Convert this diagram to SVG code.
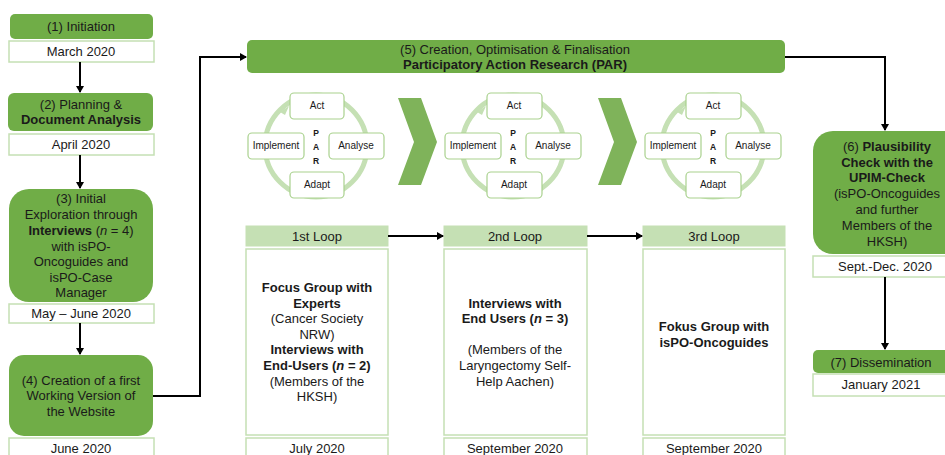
<svg xmlns="http://www.w3.org/2000/svg" width="945" height="455" viewBox="0 0 945 455">
<defs>
<marker id="ah" markerWidth="8" markerHeight="8" refX="6" refY="4" orient="auto" markerUnits="userSpaceOnUse">
<path d="M0,0 L7,4 L0,8 z" fill="#000"/>
</marker>
<style>
.g{fill:#70ad47;}
.d{fill:#fff;stroke:#c5e0b4;stroke-width:1.5;}
.h{fill:#c5e0b4;stroke:#c5e0b4;stroke-width:1;}
.c{fill:#fff;stroke:#a9d18e;stroke-width:1.2;}
.ring{fill:none;stroke:#c5e0b4;stroke-width:5;}
.chev{fill:#7fb35a;}
text{font-family:"Liberation Sans",Arial,sans-serif;font-size:13px;fill:#1a1a1a;text-anchor:middle;}
.s{font-size:10px;}
.p{font-size:8.5px;font-weight:bold;}
.b{font-weight:bold;}
.i{font-style:italic;}
.ln{fill:none;stroke:#000;stroke-width:2;}
</style>
</defs>
<rect width="945" height="455" fill="#fff"/>

<g id="n1"><rect class="g" x="10" y="14" width="143" height="25" rx="5"/><text x="81" y="31">(1) Initiation</text></g>
<g id="d1"><rect class="d" x="9" y="41" width="145" height="21"/><text x="81" y="56">March 2020</text></g>

<g id="n2"><rect class="g" x="8" y="93" width="145" height="38" rx="6"/><text x="81" y="109">(2) Planning &amp;</text><text x="81" y="124" class="b">Document Analysis</text></g>
<g id="d2"><rect class="d" x="9" y="134" width="145" height="21"/><text x="81" y="149">April 2020</text></g>

<g id="n3"><rect class="g" x="9" y="189" width="144" height="113" rx="20"/>
<text x="81" y="203">(3) Initial</text>
<text x="81" y="219">Exploration through</text>
<text x="81" y="235"><tspan class="b">Interviews</tspan> (<tspan class="i">n</tspan> = 4)</text>
<text x="81" y="251">with isPO-</text>
<text x="81" y="266">Oncoguides and</text>
<text x="81" y="282">isPO-Case</text>
<text x="81" y="297">Manager</text></g>
<g id="d3"><rect class="d" x="9" y="304" width="145" height="19"/><text x="81" y="318">May – June 2020</text></g>

<g id="n4"><rect class="g" x="9" y="355" width="144" height="81" rx="15"/>
<text x="81" y="385">(4) Creation of a first</text>
<text x="81" y="400">Working Version of</text>
<text x="81" y="416">the Website</text></g>
<g id="d4"><rect class="d" x="9" y="438" width="145" height="22"/><text x="81" y="453">June 2020</text></g>

<g id="n5"><rect class="g" x="247" y="40" width="538" height="33" rx="5"/>
<text x="515" y="54">(5) Creation, Optimisation &amp; Finalisation</text>
<text x="515" y="69" class="b">Participatory Action Research (PAR)</text></g>

<g id="cycle1">
<circle class="ring" cx="316" cy="146" r="51"/>
<path d="M280,112 L289,106 L285,115 z" fill="#c5e0b4"/>
<rect class="c" x="290" y="93" width="54" height="26" rx="4"/><text class="s" x="317" y="109">Act</text>
<rect class="c" x="248" y="133" width="56" height="26" rx="4"/><text class="s" x="276" y="149">Implement</text>
<rect class="c" x="329" y="133" width="55" height="26" rx="4"/><text class="s" x="356" y="149">Analyse</text>
<rect class="c" x="290" y="172" width="54" height="26" rx="4"/><text class="s" x="317" y="188">Adapt</text>
<text class="p" x="316" y="136">P</text><text class="p" x="316" y="150">A</text><text class="p" x="316" y="164">R</text>
</g>
<g id="chev1"><path class="chev" d="M398,98 L421,98 L437,142 L421,185 L398,185 L414,142 z"/></g>

<g id="cycle2">
<circle class="ring" cx="513" cy="146" r="51"/>
<path d="M477,112 L486,106 L482,115 z" fill="#c5e0b4"/>
<rect class="c" x="487" y="93" width="55" height="26" rx="4"/><text class="s" x="514" y="109">Act</text>
<rect class="c" x="445" y="133" width="56" height="26" rx="4"/><text class="s" x="473" y="149">Implement</text>
<rect class="c" x="526" y="133" width="55" height="26" rx="4"/><text class="s" x="553" y="149">Analyse</text>
<rect class="c" x="487" y="172" width="55" height="26" rx="4"/><text class="s" x="514" y="188">Adapt</text>
<text class="p" x="513" y="136">P</text><text class="p" x="513" y="150">A</text><text class="p" x="513" y="164">R</text>
</g>
<g id="chev2"><path class="chev" d="M598,98 L621,98 L637,142 L621,185 L598,185 L614,142 z"/></g>

<g id="cycle3">
<circle class="ring" cx="713" cy="146" r="51"/>
<path d="M677,112 L686,106 L682,115 z" fill="#c5e0b4"/>
<rect class="c" x="686" y="93" width="55" height="26" rx="4"/><text class="s" x="713" y="109">Act</text>
<rect class="c" x="645" y="133" width="56" height="26" rx="4"/><text class="s" x="673" y="149">Implement</text>
<rect class="c" x="726" y="133" width="55" height="26" rx="4"/><text class="s" x="753" y="149">Analyse</text>
<rect class="c" x="686" y="172" width="55" height="26" rx="4"/><text class="s" x="713" y="188">Adapt</text>
<text class="p" x="713" y="136">P</text><text class="p" x="713" y="150">A</text><text class="p" x="713" y="164">R</text>
</g>

<g id="loop1">
<rect class="h" x="246" y="226" width="142" height="20"/><text x="317" y="241">1st Loop</text>
<rect class="d" x="246" y="249" width="142" height="186"/>
<text x="317" y="292" class="b">Focus Group with</text>
<text x="317" y="308" class="b">Experts</text>
<text x="317" y="323">(Cancer Society</text>
<text x="317" y="339">NRW)</text>
<text x="317" y="354" class="b">Interviews with</text>
<text x="317" y="370" class="b">End-Users (<tspan class="i">n</tspan> = 2)</text>
<text x="317" y="386">(Members of the</text>
<text x="317" y="401">HKSH)</text>
<rect class="d" x="246" y="438" width="142" height="22"/><text x="317" y="453">July 2020</text>
</g>

<g id="loop2">
<rect class="h" x="444" y="226" width="143" height="20"/><text x="515" y="241">2nd Loop</text>
<rect class="d" x="444" y="249" width="143" height="186"/>
<text x="515" y="308" class="b">Interviews with</text>
<text x="515" y="323" class="b">End Users (<tspan class="i">n</tspan> = 3)</text>
<text x="515" y="354">(Members of the</text>
<text x="515" y="370">Laryngectomy Self-</text>
<text x="515" y="386">Help Aachen)</text>
<rect class="d" x="444" y="438" width="143" height="22"/><text x="515" y="453">September 2020</text>
</g>

<g id="loop3">
<rect class="h" x="643" y="226" width="142" height="20"/><text x="714" y="241">3rd Loop</text>
<rect class="d" x="643" y="249" width="142" height="186"/>
<text x="714" y="331" class="b">Fokus Group with</text>
<text x="714" y="347" class="b">isPO-Oncoguides</text>
<rect class="d" x="643" y="438" width="142" height="22"/><text x="714" y="453">September 2020</text>
</g>

<g id="n6"><rect class="g" x="813" y="131" width="150" height="123" rx="20"/>
<text x="887" y="151">(6) <tspan class="b">Plausibility</tspan></text>
<text x="887" y="167" class="b">Check with the</text>
<text x="887" y="182" class="b">UPIM-Check</text>
<text x="887" y="198">(isPO-Oncoguides</text>
<text x="887" y="214">and further</text>
<text x="887" y="230">Members of the</text>
<text x="887" y="246">HKSH)</text></g>
<g id="d6"><rect class="d" x="813" y="256" width="150" height="21"/><text x="885" y="271">Sept.-Dec. 2020</text></g>

<g id="n7"><rect class="g" x="813" y="350" width="150" height="23" rx="5"/><text x="881" y="367">(7) Dissemination</text></g>
<g id="d7"><rect class="d" x="813" y="374" width="150" height="22"/><text x="881" y="389">January 2021</text></g>

<g id="connectors">
<path class="ln" d="M80,62 V92" marker-end="url(#ah)"/>
<path class="ln" d="M80,155 V188" marker-end="url(#ah)"/>
<path class="ln" d="M80,323 V354" marker-end="url(#ah)"/>
<path class="ln" d="M153,396 H200 V57 H246" marker-end="url(#ah)"/>
<path class="ln" d="M785,57 H885 V130" marker-end="url(#ah)"/>
<path class="ln" d="M885,277 V349" marker-end="url(#ah)"/>
<path class="ln" d="M388,236 H443" marker-end="url(#ah)"/>
<path class="ln" d="M587,236 H642" marker-end="url(#ah)"/>
</g>
</svg>
